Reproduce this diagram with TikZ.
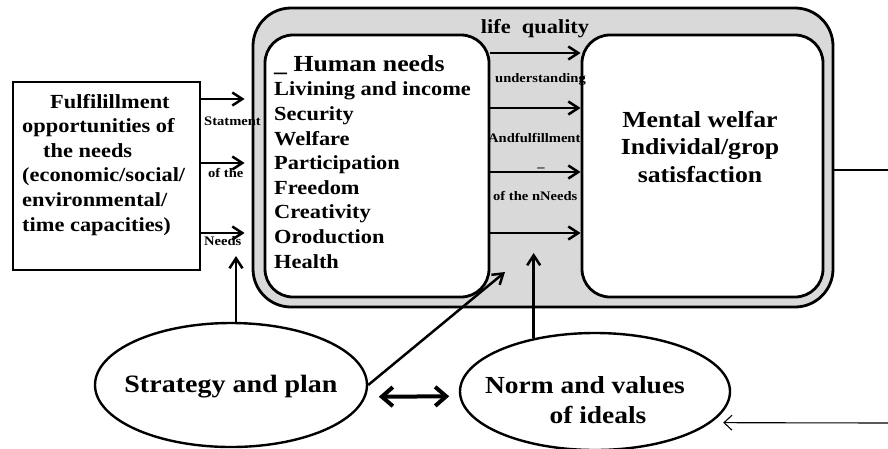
\documentclass[tikz,border=0pt]{standalone}
\usepackage{fontspec}
\newfontfamily\diafont{Liberation Serif}[FakeStretch=1.12]
\usetikzlibrary{arrows.meta}
\usetikzlibrary{shapes.geometric}
\definecolor{boxgray}{RGB}{217,217,217}

\begin{document}
\begin{tikzpicture}[x=1pt,y=1pt,yscale=-1,xscale=1,
  every node/.style={inner sep=0pt, font=\diafont\bfseries},
  frame/.style={draw, line width=2.8pt},
  roundbox/.style={frame, fill=white, rounded corners=28pt, minimum height=262pt},
  oval/.style={draw, line width=2.4pt, ellipse},
  flow/.style={line width=2.5pt, -{Straight Barb[length=10pt,width=13pt]}},
  thinflow/.style={line width=1.1pt, -{Straight Barb[length=8pt,width=15pt]}},
  both/.style={line width=4pt, {Straight Barb[length=11pt,width=19pt]}-{Straight Barb[length=11pt,width=19pt]}},
  listtext/.style={font=\diafont\bfseries\fontsize{20}{24.6}\selectfont},
  tinytext/.style={font=\diafont\bfseries\fontsize{13}{15}\selectfont, anchor=base west}
]
\useasboundingbox (0,0) rectangle (888,448);

%Rounded Rect [outer]
\node [frame, fill=boxgray, rounded corners=38pt, minimum width=580pt, minimum height=299pt] (quality) at (543,157.5) {};
%Rounded Rect [left]
\node [roundbox, minimum width=224pt] (needs) at (377,166) {};
%Rounded Rect [right]
\node [roundbox, minimum width=241pt] (welfare) at (702.5,166) {};
%Shape: Rectangle
\node [frame, minimum width=187pt, minimum height=188pt] (fulfil) at (106.5,176) {};
%Shape: Ellipse
\node [oval, minimum width=272pt, minimum height=124pt] (strategy) at (231,385) {};
%Shape: Ellipse
\node [oval, minimum width=270pt, minimum height=117pt] (norm) at (595,391.5) {};

% arrow heights
\coordinate (s1) at (0,99);
\coordinate (s2) at (0,163);
\coordinate (s3) at (0,233);
\coordinate (r1) at (0,53);
\coordinate (r2) at (0,108);
\coordinate (r3) at (0,172);
\coordinate (r4) at (0,233);
\coordinate (tipA) at (236,256);
\coordinate (tipB) at (505,272);
\coordinate (tipC) at (0,253);
\coordinate (edgeA) at (888,170);
\coordinate (edgeB) at (888,423);

%Straight Lines
\draw [flow, shorten >=7pt] (fulfil.east |- s1) -- (quality.west |- s1);
\draw [flow, shorten >=7pt] (fulfil.east |- s2) -- (quality.west |- s2);
\draw [flow, shorten >=7pt] (fulfil.east |- s3) -- (quality.west |- s3);
%Straight Lines
\draw [flow] (needs.east |- r1) -- (welfare.west |- r1);
\draw [flow] (needs.east |- r2) -- (welfare.west |- r2);
\draw [flow] (needs.east |- r3) -- (welfare.west |- r3);
\draw [flow] (needs.east |- r4) -- (welfare.west |- r4);
%Straight Lines
\draw [flow] (tipA |- strategy.north) -- (tipA);
\draw [flow] (strategy.east) -- (tipB);
\draw [flow] (norm.139) -- (norm.139 |- tipC);
\draw [both, shorten <=13pt, shorten >=10pt] (strategy.-5) -- (norm.182);
%Straight Lines
\draw [line width=1.1pt] (quality.east |- edgeA) -- (edgeA);
\draw [thinflow, shorten >=12pt] (edgeB) -- (norm.-15);

% Text Node
\node [listtext, anchor=base west, align=left] (fultext) at (22,231) {\hspace*{28pt}Fulfilillment\\opportunities of\\\hspace*{21pt}the needs\\(economic/social/\\environmental/\\time capacities)};
% Text Node
\node [listtext, anchor=base west, align=left] (needtext) at (274,268) {{\fontsize{23}{25}\selectfont\_ Human needs}\\Livining and income\\Security\\Welfare\\Participation\\Freedom\\Creativity\\Oroduction\\Health};
% Text Node
\node [font=\diafont\bfseries\fontsize{23}{27.5}\selectfont, anchor=base, align=center] (weltext) at (700,182) {Mental welfar\\Individal/grop\\satisfaction};
% Text Node
\node [listtext, anchor=base] (lifetext) at (535,33) {life\ \ quality};
% Text Node
\node [font=\diafont\bfseries\fontsize{25}{30}\selectfont, anchor=base] (strattext) at (231,392) {Strategy and plan};
% Text Node
\node [font=\diafont\bfseries\fontsize{24.5}{30}\selectfont, anchor=base, align=center] (normtext) at (585,423) {Norm and values\\\hspace*{26pt}of ideals};
% Text Node
\node [tinytext] (und) at (495,82) {understanding};
\node [tinytext] (andf) at (488,142) {Andfulfillment};
\node [tinytext, anchor=base] (dash) at (541,171) {–};
\node [tinytext] (ofneeds) at (493,200) {of the nNeeds};
% Text Node
\node [tinytext] (stat) at (204,125) {Statment};
\node [tinytext] (ofthe) at (208,177) {of the};
\node [tinytext] (needsl) at (204,245) {Needs};

\end{tikzpicture}
\end{document}
